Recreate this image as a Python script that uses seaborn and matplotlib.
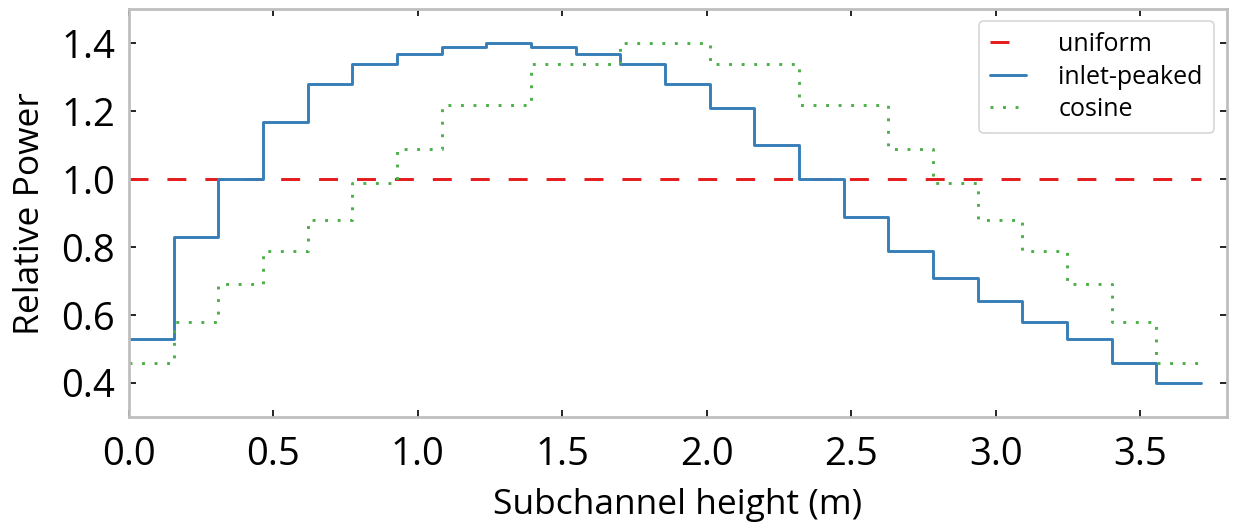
import numpy as np
import pandas as pd
import matplotlib
matplotlib.use("Agg")
import matplotlib.pyplot as plt
import seaborn as sns

# Axial power shapes over 24 equal subchannel cells
channel_height = 3.71
n_cells = 24
inlet_peaked = [0.53, 0.83, 1.00, 1.17, 1.28, 1.34, 1.37, 1.39, 1.40, 1.39, 1.37, 1.34,
                1.28, 1.21, 1.10, 1.00, 0.89, 0.79, 0.71, 0.64, 0.58, 0.53, 0.46, 0.40]
cosine = [0.46, 0.58, 0.69, 0.79, 0.88, 0.99, 1.09, 1.22, 1.22, 1.34, 1.34, 1.40,
          1.40, 1.34, 1.34, 1.22, 1.22, 1.09, 0.99, 0.88, 0.79, 0.69, 0.58, 0.46]
uniform = [1.0] * n_cells

series_names = ["uniform", "inlet-peaked", "cosine"]
series_values = [uniform, inlet_peaked, cosine]
colors = ["#e41a1c", "#377eb8", "#4daf4a"]
dash_patterns = [(6.5, 6.5), (), (1, 3.3)]

sns.set_theme(style="white")
plt.rcParams["font.family"] = ["Open Sans", "DejaVu Sans"]
plt.rcParams["text.color"] = "black"
plt.rcParams["axes.labelcolor"] = "black"
plt.rcParams["xtick.color"] = "black"
plt.rcParams["ytick.color"] = "black"

edges = np.linspace(0, channel_height, n_cells + 1)

fig = plt.figure(figsize=(12.33, 5.27), dpi=100)
ax = fig.add_axes([0.1046, 0.209, 0.8905, 0.773])

for name, vals, col, dash in zip(series_names, series_values, colors, dash_patterns):
    # repeat the last value so the final cell is drawn to the top edge
    df = pd.DataFrame({"height": edges, "power": list(vals) + [vals[-1]]})
    line_kw = dict(drawstyle="steps-post", linewidth=2.1, color=col, label=name)
    if dash:
        line_kw["dashes"] = dash
    sns.lineplot(data=df, x="height", y="power", ax=ax, estimator=None, sort=False, **line_kw)

ax.set_xlim(0, 3.8)
ax.set_ylim(0.3, 1.5)
ax.set_xticks([0.0, 0.5, 1.0, 1.5, 2.0, 2.5, 3.0, 3.5])
ax.set_yticks([0.4, 0.6, 0.8, 1.0, 1.2, 1.4])
ax.set_xticklabels([f"{v:.1f}" for v in ax.get_xticks()])
ax.set_yticklabels([f"{v:.1f}" for v in ax.get_yticks()])

ax.tick_params(axis="both", which="major", direction="in", length=5, width=1.2,
               color="black", labelcolor="black", labelsize=27.5, top=True, right=True,
               bottom=True, left=True)
ax.tick_params(axis="x", pad=14)
ax.tick_params(axis="y", pad=10)

for sp in ax.spines.values():
    sp.set_color("#bfbfbf")
    sp.set_linewidth(2.0)

ax.set_xlabel("Subchannel height (m)", fontsize=25.5, labelpad=10, color="black")
ax.set_ylabel("Relative Power", fontsize=25.5, labelpad=10, color="black")

leg = ax.legend(loc="upper right", fontsize=18, frameon=True, fancybox=True,
                handlelength=1.42, handletextpad=1.3, borderpad=0.45, labelspacing=0.3,
                borderaxespad=0, bbox_to_anchor=(0.988, 0.972))
leg.get_frame().set_edgecolor("#cccccc")
leg.get_frame().set_linewidth(1.2)
for t in leg.get_texts():
    t.set_color("black")

fig.savefig("out.png", dpi=100)
